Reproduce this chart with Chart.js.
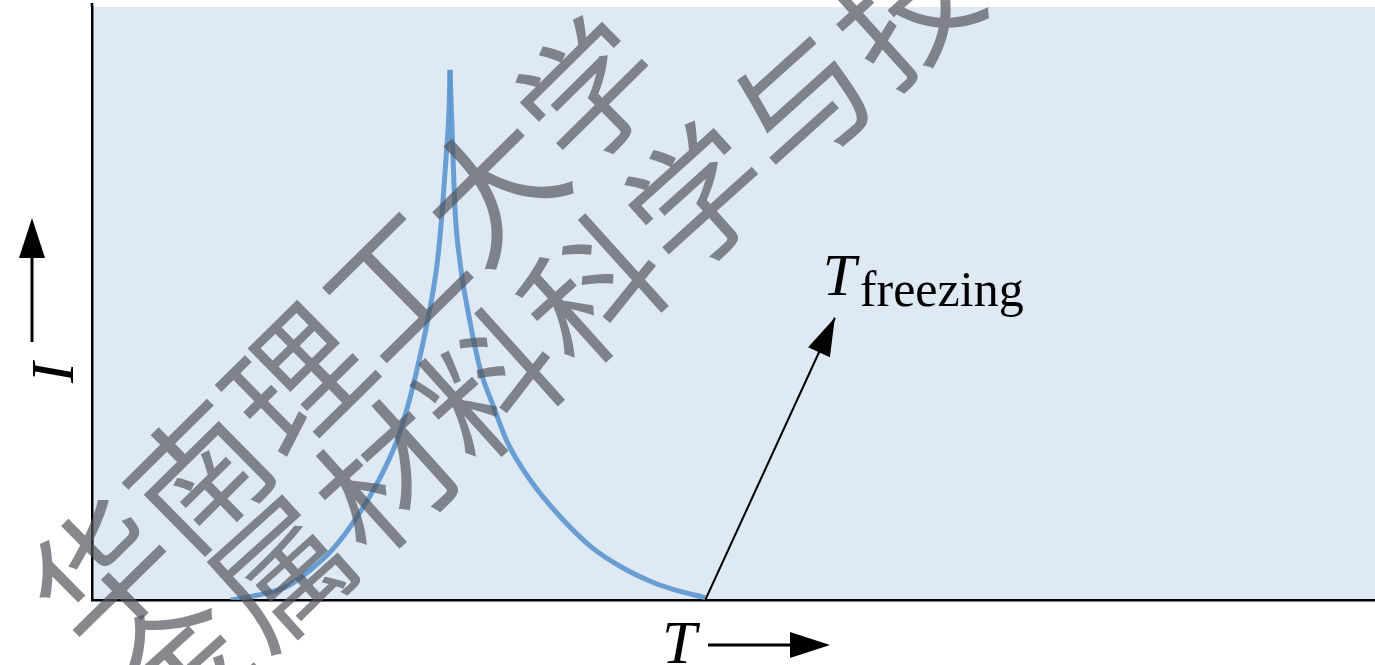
<!DOCTYPE html>
<html><head><meta charset="utf-8">
<script src="https://cdn.jsdelivr.net/npm/chart.js@4/dist/chart.umd.min.js"></script>
<style>html,body{margin:0;padding:0;background:#fff;overflow:hidden}#wrap{width:1375px;height:665px;position:relative}</style>
</head><body><div id="wrap"><canvas id="c" width="1375" height="665"></canvas></div>
<script>
// Nucleation rate I vs temperature T (schematic)
const leftT  = [10.8, 13.7, 15.3, 17.2, 18.7, 20.8, 22.4, 23.7, 24.6, 25.3, 26.2, 26.9, 27.3, 27.6, 27.84, 27.9];
const leftI  = [0.0, 1.2, 2.4, 5.4, 8.4, 14.5, 20.4, 26.5, 32.6, 38.6, 47.6, 56.7, 65.6, 74.7, 83.6, 89.4];
const rightT = [27.9, 28.0, 28.14, 28.3, 28.7, 29.4, 30.3, 31.3, 32.4, 34.1, 36.3, 39.0, 41.4, 43.7, 45.3, 47.8];
const rightI = [89.4, 83.6, 74.7, 65.6, 56.7, 47.6, 38.6, 32.6, 26.5, 20.4, 14.5, 8.8, 5.4, 3.0, 1.8, 0.4];
const arrowT = [47.8, 57.9];
const arrowI = [0.0, 47.6];
const xLabel = 'T';
const yLabel = 'I';
const freezeMain = 'T';
const freezeSub = 'freezing';
const watermarkLines = ['华南理工大学', '金属材料科学与技'];

const toPts = (xs, ys) => xs.map((x, i) => ({x: x, y: ys[i]}));

const bgPlugin = {
  id: 'bg',
  beforeDraw(chart) {
    const {ctx, chartArea: a} = chart;
    ctx.save();
    ctx.fillStyle = '#dfe9f4';
    ctx.fillRect(a.left, a.top, a.right - a.left, a.bottom - a.top);
    ctx.strokeStyle = '#000';
    ctx.lineWidth = 2.5;
    ctx.beginPath();
    ctx.moveTo(a.left, a.top);
    ctx.lineTo(a.left, a.top - 4);
    ctx.stroke();
    ctx.restore();
  }
};

function arrowHead(ctx, x1, y1, x2, y2, len, half) {
  const ang = Math.atan2(y2 - y1, x2 - x1);
  ctx.beginPath();
  ctx.moveTo(x2, y2);
  ctx.lineTo(x2 - len * Math.cos(ang) + half * Math.sin(ang), y2 - len * Math.sin(ang) - half * Math.cos(ang));
  ctx.lineTo(x2 - len * Math.cos(ang) - half * Math.sin(ang), y2 - len * Math.sin(ang) + half * Math.cos(ang));
  ctx.closePath();
  ctx.fill();
}

const annoPlugin = {
  id: 'anno',
  afterDatasetsDraw(chart) {
    const {ctx, chartArea: a, scales: {x, y}} = chart;
    ctx.save();
    ctx.fillStyle = '#000';
    ctx.strokeStyle = '#000';
    // arrow head for freezing arrow
    const x1 = x.getPixelForValue(arrowT[0]), y1 = y.getPixelForValue(arrowI[0]);
    const x2 = x.getPixelForValue(arrowT[1]), y2 = y.getPixelForValue(arrowI[1]);
    arrowHead(ctx, x1, y1, x2, y2, 38, 12);
    // T_freezing label
    ctx.textBaseline = 'alphabetic';
    ctx.font = 'italic 60px "Liberation Serif", "DejaVu Serif", serif';
    ctx.fillText(freezeMain, x2 - 12, y2 - 23);
    ctx.font = '50px "Liberation Serif", "DejaVu Serif", serif';
    ctx.fillText(freezeSub, x2 + 25, y2 - 12);

    // x axis label: T ->
    const bx = a.left + 570, by = a.bottom + 63;
    ctx.font = 'italic 62px "Liberation Serif", "DejaVu Serif", serif';
    ctx.fillText(xLabel, bx, by);
    ctx.lineWidth = 3;
    ctx.beginPath();
    ctx.moveTo(bx + 46, a.bottom + 45);
    ctx.lineTo(bx + 135, a.bottom + 45);
    ctx.stroke();
    arrowHead(ctx, bx + 46, a.bottom + 45, bx + 168, a.bottom + 45, 40, 13);

    // y axis label: I ^ (rotated)
    ctx.save();
    ctx.translate(a.left - 37, a.top + 376);
    ctx.rotate(-Math.PI / 2);
    ctx.font = 'italic 62px "Liberation Serif", "DejaVu Serif", serif';
    ctx.fillText(yLabel, 0, 18);
    ctx.restore();
    ctx.lineWidth = 3;
    const ax = a.left - 60;
    ctx.beginPath();
    ctx.moveTo(ax, a.top + 335);
    ctx.lineTo(ax, a.top + 245);
    ctx.stroke();
    arrowHead(ctx, ax, a.top + 335, ax, a.top + 211, 40, 13);
    ctx.restore();
  },
  afterDraw(chart) {
    const ctx = chart.ctx;
    ctx.save();
    ctx.fillStyle = 'rgba(82,86,94,0.7)';
    ctx.textAlign = 'center';
    ctx.textBaseline = 'middle';
    ctx.font = '136px "Noto Sans CJK SC", sans-serif';
    const specs = [
      {cx: 101, cy: 572, ang: -44.6, step: 137},
      {cx: 177, cy: 665, ang: -42.0, step: 140}
    ];
    watermarkLines.forEach((line, li) => {
      const s = specs[li];
      ctx.save();
      ctx.translate(s.cx, s.cy);
      ctx.rotate(s.ang * Math.PI / 180);
      Array.from(line).forEach((ch, i) => ctx.fillText(ch, i * s.step, 0));
      ctx.restore();
    });
    ctx.restore();
  }
};

new Chart(document.getElementById('c'), {
  type: 'line',
  data: {
    datasets: [
      {data: toPts(leftT, leftI), borderColor: 'rgba(92,150,207,0.9)', borderWidth: 5, pointRadius: 0, cubicInterpolationMode: 'monotone', fill: false},
      {data: toPts(rightT, rightI), borderColor: 'rgba(92,150,207,0.9)', borderWidth: 5, pointRadius: 0, cubicInterpolationMode: 'monotone', fill: false},
      {data: toPts(arrowT, arrowI), borderColor: '#000', borderWidth: 2, pointRadius: 0, tension: 0, fill: false}
    ]
  },
  options: {
    responsive: false,
    animation: false,
    events: [],
    layout: {padding: {left: 84, top: 7, right: 0, bottom: 57}},
    plugins: {legend: {display: false}, tooltip: {enabled: false}, title: {display: false}},
    scales: {
      x: {type: 'linear', min: 0, max: 100, grid: {display: false}, ticks: {display: false}, border: {display: true, color: '#000', width: 2.5}},
      y: {type: 'linear', min: 0, max: 100, grid: {display: false}, ticks: {display: false}, border: {display: true, color: '#000', width: 2.5}}
    }
  },
  plugins: [bgPlugin, annoPlugin]
});
</script>
</body></html>
